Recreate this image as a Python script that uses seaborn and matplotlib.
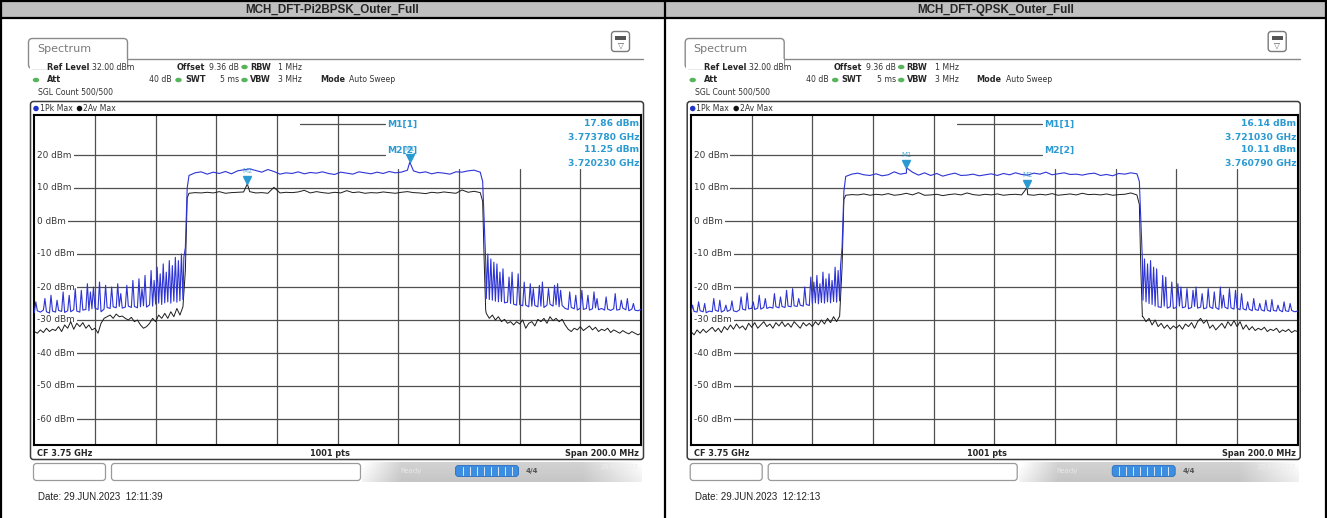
import numpy as np
import pandas as pd
import matplotlib
matplotlib.use("Agg")
import matplotlib.pyplot as plt
from matplotlib.patches import FancyBboxPatch, Rectangle, Ellipse
from matplotlib import font_manager
import seaborn as sns

# ---------------- data ----------------
TITLES = ["MCH_DFT-Pi2BPSK_Outer_Full", "MCH_DFT-QPSK_Outer_Full"]
DATES = ["Date: 29.JUN.2023  12:11:39", "Date: 29.JUN.2023  12:12:13"]
START_GHZ = 3.65
STOP_GHZ = 3.85
REF_LEVEL_DBM = 32.0
BOTTOM_DBM = -68.0
Y_TICKS_DBM = [20, 10, 0, -10, -20, -30, -40, -50, -60]
X_GRID_MHZ = [20, 40, 60, 80, 100, 120, 140, 160, 180]

# frequency offsets (MHz from start of span) where the traces were read
F_LOW = list(range(0, 50))
F_IN = list(range(51, 148, 2))
F_HIGH = list(range(149, 201))
F_EDGE_LO = [49.8, 50.4]
F_EDGE_HI = [147.8, 148.3, 148.8]

# ---- panel 1 : Pi/2-BPSK ----
P1_PK_LOW = [-27.8, -27.2, -27.6, -27.0, -27.5, -27.9, -27.3, -27.6, -27.1, -27.4,
             -27.7, -27.2, -27.5, -26.9, -27.3, -27.6, -27.0, -26.8, -27.2, -26.6,
             -26.4, -26.8, -27.5, -26.7, -26.2, -26.5, -26.0, -26.3, -25.9, -26.4,
             -26.1, -25.8, -26.2, -25.9, -26.3, -26.0, -25.7, -26.1, -25.4, -25.8,
             -25.2, -24.9, -25.3, -24.8, -24.5, -24.9, -24.3, -24.6, -24.2, -23.8]
P1_PK_SPIKE_LOW_F = [0.5, 3.5, 5.5, 7.5, 9.5, 11.5, 13.5, 15.5, 17.5, 18.5, 19.5, 21.5,
                     23.5, 25.5, 27.5, 28.5, 30.5, 32.5, 34.5, 35.5, 36.5, 38.5, 39.5,
                     40.5, 41.5, 42.5, 43.5, 44.5, 45.5, 46.5, 47.5, 48.5, 49.3]
P1_PK_SPIKE_LOW = [-24.5, -23.5, -22.5, -24.0, -21.5, -22.5, -20.5, -21.0, -19.0, -21.5,
                   -20.0, -18.5, -19.5, -20.0, -19.0, -22.0, -19.5, -18.0, -17.5, -20.5,
                   -16.5, -15.0, -18.0, -14.0, -16.0, -13.0, -15.5, -12.0, -13.5, -11.0,
                   -12.0, -10.0, -11.0]
P1_PK_EDGE_LO = [-8.0, 10.0]
P1_PK_IN = [13.8, 14.6, 14.9, 14.2, 14.8, 14.4, 15.0, 14.3, 15.2, 15.5,
            15.8, 15.3, 14.8, 15.6, 15.0, 14.2, 14.6, 14.4, 14.9, 14.3,
            14.7, 14.5, 14.9, 14.4, 14.1, 14.8, 14.5, 14.2, 14.9, 14.6,
            14.3, 14.8, 14.4, 15.0, 14.6, 14.8, 15.4, 15.2, 14.6, 14.9,
            14.3, 14.7, 14.5, 14.2, 14.9, 14.8, 15.2, 15.4, 14.8]
P1_PK_EDGE_HI = [12.0, 0.0, -12.0]
P1_PK_HIGH = [-23.5, -23.8, -24.0, -24.3, -24.5, -24.4, -24.8, -24.6, -25.0, -25.2,
              -25.5, -25.3, -25.7, -25.5, -26.0, -25.8, -25.6, -26.0, -25.8, -26.2,
              -25.5, -25.2, -25.8, -25.4, -26.0, -25.6, -26.5, -26.8, -26.2, -26.6,
              -27.0, -26.4, -26.8, -26.5, -27.0, -26.6, -26.3, -26.9, -26.5, -27.0,
              -26.7, -27.1, -26.6, -27.0, -26.8, -26.4, -26.9, -27.2, -26.7, -27.0,
              -27.2, -26.8]
P1_PK_SPIKE_HIGH_F = [149.5, 150.5, 151.5, 152.5, 153.5, 154.5, 156.5, 157.5, 159.5, 161.5,
                      163.5, 164.5, 166.5, 167.5, 169.5, 171.5, 172.5, 173.5, 176.5, 178.5,
                      180.5, 182.5, 184.5, 185.5, 188.5, 191.5, 193.5, 195.5, 197.5]
P1_PK_SPIKE_HIGH = [-10.0, -11.5, -12.5, -13.0, -15.5, -14.5, -17.0, -15.5, -16.0, -18.5,
                    -19.0, -20.5, -19.5, -18.5, -20.5, -19.5, -19.0, -21.0, -21.5, -22.5,
                    -21.0, -22.5, -21.5, -23.5, -23.0, -22.0, -24.0, -23.5, -25.0]
P1_AV_LOW = [-33.5, -34.0, -33.0, -33.8, -32.5, -33.5, -32.8, -33.2, -32.0, -33.5,
             -31.5, -32.5, -30.5, -32.8, -31.0, -32.0, -30.8, -32.5, -31.5, -33.0,
             -32.5, -34.0, -31.0, -29.5, -29.0, -28.5, -29.5, -28.2, -29.0, -28.8,
             -29.5, -30.0, -29.2, -30.5, -30.0, -31.5, -32.5, -32.0, -31.0, -29.5,
             -30.5, -28.5, -29.5, -28.0, -29.5, -27.5, -29.0, -26.5, -28.5, -26.0]
P1_AV_EDGE_LO = [-15.0, 7.0]
P1_AV_IN = [8.4, 8.6, 8.5, 8.7, 8.5, 8.9, 8.4, 8.6, 8.7, 8.8,
            8.9, 8.5, 8.6, 8.4, 10.2, 8.5, 8.7, 8.6, 8.8, 9.3,
            8.5, 8.9, 8.6, 8.4, 8.7, 8.5, 9.2, 8.6, 8.8, 8.4,
            8.6, 8.5, 8.8, 8.6, 8.4, 8.7, 8.9, 8.6, 8.5, 8.3,
            8.7, 8.5, 8.8, 8.6, 8.4, 9.4, 8.7, 9.0, 8.6]
P1_AV_EDGE_HI = [6.0, -12.0, -27.0]
P1_AV_HIGH = [-28.0, -29.5, -28.5, -30.0, -29.0, -30.5, -29.8, -31.0, -30.5, -31.5,
              -30.5, -31.2, -30.0, -32.5, -31.0, -30.5, -31.8, -29.8, -30.5, -29.5,
              -31.0, -29.0, -30.2, -29.5, -30.5, -29.8, -31.5, -32.8, -33.5, -32.5,
              -33.0, -32.0, -33.2, -32.5, -31.8, -33.0, -32.2, -33.5, -32.8, -33.2,
              -32.5, -33.8, -33.0, -33.5, -34.0, -33.2, -33.8, -34.2, -33.5, -34.0,
              -34.5, -34.0]
P1_MARKER_GHZ = [3.773780, 3.720230]
P1_MARKER_DBM = [17.86, 11.25]

# ---- panel 2 : QPSK ----
P2_PK_LOW = [-27.8, -27.4, -27.6, -27.2, -27.5, -27.8, -27.3, -27.5, -27.0, -27.4,
             -27.6, -27.1, -27.4, -26.9, -27.2, -27.5, -26.9, -26.7, -27.0, -26.6,
             -26.5, -26.8, -26.4, -26.7, -26.2, -26.5, -26.1, -26.4, -26.0, -26.3,
             -25.9, -26.2, -25.8, -26.0, -25.7, -25.9, -25.5, -25.8, -25.3, -25.6,
             -25.0, -24.8, -25.1, -24.7, -24.9, -24.5, -24.8, -24.4, -24.6, -24.2]
P2_PK_SPIKE_LOW_F = [0.5, 2.5, 4.5, 7.5, 9.5, 11.5, 13.5, 16.5, 18.5, 20.5, 22.5, 24.5,
                     27.5, 29.5, 31.5, 33.5, 35.5, 37.5, 39.5, 40.5, 41.5, 42.5, 43.5,
                     44.5, 45.5, 46.5, 47.5, 48.5, 49.3]
P2_PK_SPIKE_LOW = [-25.5, -24.5, -25.0, -23.5, -24.0, -25.5, -24.2, -23.0, -21.8, -24.5,
                   -22.5, -23.5, -22.0, -23.0, -21.0, -20.5, -23.5, -20.0, -17.0, -18.5,
                   -16.5, -19.0, -15.5, -17.5, -16.0, -18.0, -14.0, -15.0, -13.5]
P2_PK_EDGE_LO = [-8.0, 9.0]
P2_PK_IN = [13.5, 14.2, 14.5, 14.0, 13.8, 14.3, 13.7, 14.0, 14.9, 14.2,
            14.5, 14.8, 13.9, 14.6, 13.8, 14.4, 13.6, 14.1, 14.5, 13.8,
            13.9, 14.2, 13.7, 14.0, 14.3, 13.8, 14.4, 14.0, 14.6, 14.1,
            13.9, 14.5, 14.2, 14.8, 14.0, 14.3, 14.6, 14.1, 14.2, 13.9,
            14.3, 14.5, 13.8, 14.1, 13.7, 14.4, 14.2, 14.6, 14.3]
P2_PK_EDGE_HI = [12.0, 0.0, -12.0]
P2_PK_HIGH = [-24.0, -24.5, -25.0, -25.3, -25.8, -26.0, -26.2, -25.8, -26.4, -26.0,
              -26.5, -26.2, -25.8, -26.3, -26.0, -26.6, -26.2, -25.9, -26.4, -26.1,
              -26.6, -26.3, -26.0, -26.5, -26.2, -26.8, -26.4, -26.1, -26.6, -26.3,
              -26.7, -26.4, -26.9, -26.6, -27.0, -26.7, -27.2, -26.8, -27.1, -26.9,
              -27.3, -27.0, -27.4, -27.1, -27.3, -27.0, -27.5, -27.2, -27.4, -27.1,
              -27.5, -27.3]
P2_PK_SPIKE_HIGH_F = [149.5, 150.5, 151.5, 152.5, 153.5, 155.5, 156.5, 158.5, 160.5, 161.5,
                      163.5, 165.5, 166.5, 168.5, 170.5, 172.5, 174.5, 175.5, 177.5, 179.5,
                      181.5, 183.5, 185.5, 187.5, 189.5, 191.5, 193.5, 195.5, 197.5]
P2_PK_SPIKE_HIGH = [-11.5, -13.0, -12.0, -14.0, -14.5, -16.5, -17.0, -18.5, -19.0, -20.0,
                    -20.5, -21.0, -20.0, -22.0, -20.5, -21.5, -20.0, -22.5, -20.5, -21.0,
                    -22.0, -24.5, -23.5, -25.0, -24.0, -23.8, -25.5, -24.5, -25.0]
P2_AV_LOW = [-33.5, -34.5, -33.0, -34.0, -32.8, -33.8, -33.0, -32.2, -33.5, -32.5,
             -33.8, -32.0, -33.0, -31.5, -32.8, -31.2, -32.5, -31.8, -33.0, -31.0,
             -32.2, -30.8, -32.5, -31.5, -30.5, -32.0, -31.2, -32.5, -30.8, -31.8,
             -30.5, -32.0, -31.0, -32.2, -30.5, -31.5, -32.5, -30.8, -31.8, -31.0,
             -32.0, -30.5, -31.5, -30.0, -31.2, -29.5, -30.8, -29.0, -30.5, -28.8]
P2_AV_EDGE_LO = [-14.0, 6.5]
P2_AV_IN = [7.8, 8.0, 7.9, 8.2, 7.8, 8.1, 7.9, 8.3, 7.8, 8.0,
            8.4, 7.9, 8.6, 7.8, 7.9, 8.1, 7.7, 8.0, 8.2, 7.9,
            8.5, 8.0, 7.8, 8.1, 7.9, 8.2, 7.8, 8.0, 8.1, 7.9,
            8.0, 7.8, 8.1, 7.9, 8.3, 7.8, 8.0, 8.2, 7.9, 8.4,
            8.0, 8.1, 7.9, 8.2, 7.8, 8.0, 8.1, 8.5, 7.9]
P2_AV_EDGE_HI = [5.0, -15.0, -29.0]
P2_AV_HIGH = [-29.0, -30.5, -29.5, -31.5, -30.0, -32.0, -31.0, -32.5, -31.5, -32.8,
              -31.8, -32.5, -31.5, -32.8, -31.2, -32.0, -30.8, -32.5, -30.5, -29.5,
              -31.0, -30.0, -32.5, -31.5, -33.0, -32.0, -31.0, -32.5, -30.5, -31.8,
              -30.2, -32.0, -30.5, -32.8, -31.5, -33.0, -32.0, -33.2, -32.5, -33.0,
              -32.2, -33.5, -32.8, -33.2, -32.5, -33.8, -33.0, -33.5, -32.8, -33.8,
              -33.2, -33.5]
P2_MARKER_GHZ = [3.721030, 3.760790]
P2_MARKER_DBM = [16.14, 10.11]

# ---------------- styling ----------------
sns.set_style("white")
plt.rcParams["font.family"] = ["DejaVu Sans"]

_names = {f.name for f in font_manager.fontManager.ttflist}
TITLE_FAMILY = "Liberation Sans Narrow" if "Liberation Sans Narrow" in _names else "Liberation Sans"
TITLE_SIZE = 10.0 if TITLE_FAMILY == "Liberation Sans Narrow" else 8.4

W, H = 1327, 518
PK_COLOR = "#2e34d4"
AV_COLOR = "#1c1c1c"
MK_COLOR = "#2b9ad2"
GRID_COLOR = "#505050"
GRID_X0, GRID_W = 34.3, 606.7
GRID_Y0, GRID_H = 115.4, 330.0
PX_PER_DB = GRID_H / (REF_LEVEL_DBM - BOTTOM_DBM)

fig = plt.figure(figsize=(W / 100, H / 100), dpi=100)
bg = fig.add_axes([0, 0, 1, 1])
bg.set_xlim(0, W)
bg.set_ylim(H, 0)
bg.axis("off")

# table frame and header row
bg.add_patch(Rectangle((0, 0), W, 18, fc="#c0c0c0", ec="none", zorder=0))
for seg in [([1, W - 1], [1, 1]), ([0, W], [18, 18]), ([1, 1], [0, H]),
            ([W - 1.5, W - 1.5], [0, H]), ([664.5, 664.5], [0, H])]:
    bg.plot(seg[0], seg[1], color="black", lw=1.6, zorder=1, solid_capstyle="butt")


def build(parts_f, parts_v):
    f = np.concatenate([np.asarray(p, float) for p in parts_f])
    v = np.concatenate([np.asarray(p, float) for p in parts_v])
    order = np.argsort(f, kind="stable")
    return pd.DataFrame({"ghz": START_GHZ + f[order] / 1000.0, "dbm": v[order]})


def green_dot(x, y):
    bg.add_patch(Ellipse((x, y), 6.5, 4.5, fc="#58b45a", ec="none", zorder=3))


def draw_panel(i, pk, av, mk_ghz, mk_dbm, leader_end_px):
    dx = 656.7 * i
    cx = 332 + 664 * i
    bg.text(cx, 9.5, TITLES[i], ha="center", va="center", fontsize=TITLE_SIZE,
            fontweight="bold", family=TITLE_FAMILY, zorder=4)

    # "Spectrum" tab + window line
    bg.add_patch(FancyBboxPatch((28.5 + dx, 38.5), 99, 30, boxstyle="round,pad=0,rounding_size=4",
                                fc="white", ec="#8a8a8a", lw=1.0, zorder=2))
    bg.add_patch(Rectangle((29.5 + dx, 59.3), 97.5, 10, fc="white", ec="none", zorder=2.5))
    bg.plot([127.5 + dx, 643 + dx], [59.3, 59.3], color="#8a8a8a", lw=1.0, zorder=2)
    bg.text(37 + dx, 48.5, "Spectrum", fontsize=8.0, color="#7a7a7a", va="center", zorder=3)
    # top-right icon
    bg.add_patch(FancyBboxPatch((611.5 + dx, 31.5), 18, 20, boxstyle="round,pad=0,rounding_size=3",
                                fc="white", ec="#7a7a7a", lw=1.0, zorder=2))
    bg.add_patch(Rectangle((615 + dx, 35.5), 11, 4, fc="#555555", ec="none", zorder=3))
    bg.text(620.5 + dx, 45.5, "\u25bd", fontsize=5.5, color="#555555", ha="center", va="center", zorder=3)

    # setting rows
    fb, fv = 5.9, 5.6
    row1, row2, row3 = 67.0, 80.0, 92.0
    bg.text(47 + dx, row1, "Ref Level", fontsize=fb, fontweight="bold", va="center")
    bg.text(92 + dx, row1, "32.00 dBm", fontsize=fv, va="center", color="#333333")
    bg.text(177 + dx, row1, "Offset", fontsize=fb, fontweight="bold", va="center")
    bg.text(209 + dx, row1, "9.36 dB", fontsize=fv, va="center", color="#333333")
    green_dot(244.5 + dx, row1)
    bg.text(250 + dx, row1, "RBW", fontsize=fb, fontweight="bold", va="center")
    bg.text(278 + dx, row1, "1 MHz", fontsize=fv, va="center", color="#333333")
    green_dot(36 + dx, row2)
    bg.text(47 + dx, row2, "Att", fontsize=fb, fontweight="bold", va="center")
    bg.text(172 + dx, row2, "40 dB", fontsize=fv, va="center", ha="right", color="#333333")
    green_dot(178.5 + dx, row2)
    bg.text(185 + dx, row2, "SWT", fontsize=fb, fontweight="bold", va="center")
    bg.text(239 + dx, row2, "5 ms", fontsize=fv, va="center", ha="right", color="#333333")
    green_dot(244.5 + dx, row2)
    bg.text(250 + dx, row2, "VBW", fontsize=fb, fontweight="bold", va="center")
    bg.text(278 + dx, row2, "3 MHz", fontsize=fv, va="center", color="#333333")
    bg.text(320 + dx, row2, "Mode", fontsize=fb, fontweight="bold", va="center")
    bg.text(349 + dx, row2, "Auto Sweep", fontsize=fv, va="center", color="#333333")
    bg.text(38 + dx, row3, "SGL Count 500/500", fontsize=fv, va="center", color="#333333")

    # trace window
    bg.add_patch(FancyBboxPatch((30.5 + dx, 101.5), 613, 358, boxstyle="round,pad=0,rounding_size=3",
                                fc="white", ec="#3c3c3c", lw=1.1, zorder=2))
    bg.add_patch(Ellipse((36 + dx, 108.5), 5.5, 5.5, fc="#2233cc", ec="none", zorder=3))
    bg.text(39.5 + dx, 108.5, "1Pk Max", fontsize=fv, va="center", color="#333333", zorder=3)
    bg.add_patch(Ellipse((79.5 + dx, 108.5), 5.5, 5.5, fc="#111111", ec="none", zorder=3))
    bg.text(83 + dx, 108.5, "2Av Max", fontsize=fv, va="center", color="#333333", zorder=3)
    bg.text(37 + dx, 453.5, "CF 3.75 GHz", fontsize=fb, fontweight="bold", va="center", zorder=3)
    bg.text(330 + dx, 453.5, "1001 pts", fontsize=fb, fontweight="bold", va="center", ha="center", zorder=3)
    bg.text(639 + dx, 453.5, "Span 200.0 MHz", fontsize=fb, fontweight="bold", va="center", ha="right", zorder=3)

    # status bar
    bg.add_patch(FancyBboxPatch((33.5 + dx, 463.5), 72, 17, boxstyle="round,pad=0,rounding_size=3",
                                fc="white", ec="#9a9a9a", lw=0.9, zorder=2))
    bg.add_patch(FancyBboxPatch((111.5 + dx, 463.5), 249, 17, boxstyle="round,pad=0,rounding_size=3",
                                fc="white", ec="#9a9a9a", lw=0.9, zorder=2))
    grad = np.tile(np.concatenate([np.linspace(0.98, 0.80, 40), np.full(180, 0.80),
                                   np.linspace(0.80, 0.97, 60)]), (12, 1))
    grad = grad * np.linspace(1.03, 0.97, 12)[:, None]
    bg.imshow(np.clip(grad, 0, 1), extent=[362 + dx, 642 + dx, 482, 462], cmap="gray",
              vmin=0, vmax=1, aspect="auto", zorder=1.5, interpolation="bilinear")
    bg.text(400 + dx, 471, "Ready", fontsize=5.0, color="#e8e8e8", va="center", zorder=3)
    bg.add_patch(FancyBboxPatch((455.5 + dx, 465.5), 63, 11, boxstyle="round,pad=0,rounding_size=3",
                                fc="#3d8de0", ec="#2a6fc0", lw=0.6, zorder=3))
    for k in range(1, 9):
        bg.plot([455.5 + dx + 7 * k] * 2, [467, 475], color="#d8e8fa", lw=0.7, zorder=4)
    bg.text(532 + dx, 471, "4/4", fontsize=5.0, color="#555555", fontweight="bold",
            ha="center", va="center", zorder=3)
    bg.text(620 + dx, 467, "29.06.2023", fontsize=4.8, color="#ececec", ha="center", va="center", zorder=3)

    bg.text(38 + dx, 497.5, DATES[i], fontsize=7.0, family="Liberation Sans",
            color="#222222", va="center")

    # ---- spectrum axes ----
    x0 = GRID_X0 + dx
    ax = fig.add_axes([x0 / W, (H - GRID_Y0 - GRID_H) / H, GRID_W / W, GRID_H / H])
    ax.set_xlim(START_GHZ, STOP_GHZ)
    ax.set_ylim(BOTTOM_DBM, REF_LEVEL_DBM)
    ax.set_xticks([])
    ax.set_yticks([])
    for s in ax.spines.values():
        s.set_color("black")
        s.set_linewidth(1.5)
    ax.set_zorder(5)

    def gx(px):
        return START_GHZ + (px - x0) / GRID_W * (STOP_GHZ - START_GHZ)

    def gy(py):
        return REF_LEVEL_DBM - (py - GRID_Y0) / PX_PER_DB

    box_top = gy(169)
    for f in X_GRID_MHZ:
        g = START_GHZ + f / 1000.0
        top = box_top if gx(leader_end_px + dx) < g else REF_LEVEL_DBM
        ax.plot([g, g], [BOTTOM_DBM, top], color=GRID_COLOR, lw=0.9, zorder=1)
    for y in Y_TICKS_DBM:
        right = gx(leader_end_px + dx) if y == 20 else STOP_GHZ
        ax.plot([START_GHZ, right], [y, y], color=GRID_COLOR, lw=0.9, zorder=1)
        ax.text(gx(37 + dx), y, f"{y} dBm", fontsize=6.4, color="#3a3a3a", va="center",
                ha="left", zorder=1.5,
                bbox=dict(fc="white", ec="none", pad=1.6))
    # marker-table leader line for M1
    ax.plot([gx(300 + dx), gx(leader_end_px + dx)], [gy(124), gy(124)], color=GRID_COLOR, lw=0.9, zorder=1)

    # traces via seaborn
    sns.lineplot(data=av, x="ghz", y="dbm", ax=ax, color=AV_COLOR, lw=0.7,
                 estimator=None, sort=False, zorder=2)
    sns.lineplot(data=pk, x="ghz", y="dbm", ax=ax, color=PK_COLOR, lw=0.8,
                 estimator=None, sort=False, zorder=3)
    ax.set_xlabel("")
    ax.set_ylabel("")

    # markers
    for k, (g, d) in enumerate(zip(mk_ghz, mk_dbm)):
        ax.plot([g], [d + 1.1], marker="v", ms=5.5, color=MK_COLOR, mec=MK_COLOR, zorder=6)
        ax.text(g, d + 3.9, f"M{k + 1}", fontsize=5.0, color=MK_COLOR, ha="center",
                va="center", zorder=6, alpha=0.8)
    # marker table
    rows = [gy(124), gy(137), gy(150), gy(163)]
    ax.text(gx(387 + dx), rows[0], "M1[1]", fontsize=6.6, color=MK_COLOR, fontweight="bold",
            va="center", zorder=7)
    ax.text(gx(387 + dx), rows[2], "M2[2]", fontsize=6.6, color=MK_COLOR, fontweight="bold",
            va="center", zorder=5)
    lines = [f"{mk_dbm[0]:.2f} dBm", f"{mk_ghz[0]:.6f} GHz",
             f"{mk_dbm[1]:.2f} dBm", f"{mk_ghz[1]:.6f} GHz"]
    for r, t in zip(rows, lines):
        ax.text(gx(639.5 + dx), r, t, fontsize=6.6, color=MK_COLOR, fontweight="bold",
                ha="right", va="center", zorder=7)


def panel_traces(pk_parts_f, pk_parts, av_parts, mk_ghz, mk_dbm):
    mk_mhz = [(g - START_GHZ) * 1000.0 for g in mk_ghz]
    fparts = [F_LOW, F_EDGE_LO, F_IN, F_EDGE_HI, F_HIGH]
    pk = build(fparts + list(pk_parts_f) + [mk_mhz[:1]], list(pk_parts) + [mk_dbm[:1]])
    av = build(fparts + [mk_mhz[1:]], list(av_parts) + [mk_dbm[1:]])
    return pk, av


pk1, av1 = panel_traces([P1_PK_SPIKE_LOW_F, P1_PK_SPIKE_HIGH_F],
                        [P1_PK_LOW, P1_PK_EDGE_LO, P1_PK_IN, P1_PK_EDGE_HI, P1_PK_HIGH,
                         P1_PK_SPIKE_LOW, P1_PK_SPIKE_HIGH],
                        [P1_AV_LOW, P1_AV_EDGE_LO, P1_AV_IN, P1_AV_EDGE_HI, P1_AV_HIGH],
                        P1_MARKER_GHZ, P1_MARKER_DBM)
pk2, av2 = panel_traces([P2_PK_SPIKE_LOW_F, P2_PK_SPIKE_HIGH_F],
                        [P2_PK_LOW, P2_PK_EDGE_LO, P2_PK_IN, P2_PK_EDGE_HI, P2_PK_HIGH,
                         P2_PK_SPIKE_LOW, P2_PK_SPIKE_HIGH],
                        [P2_AV_LOW, P2_AV_EDGE_LO, P2_AV_IN, P2_AV_EDGE_HI, P2_AV_HIGH],
                        P2_MARKER_GHZ, P2_MARKER_DBM)

draw_panel(0, pk1, av1, P1_MARKER_GHZ, P1_MARKER_DBM, 385)
draw_panel(1, pk2, av2, P2_MARKER_GHZ, P2_MARKER_DBM, 385)

fig.savefig("out.png", dpi=100)
